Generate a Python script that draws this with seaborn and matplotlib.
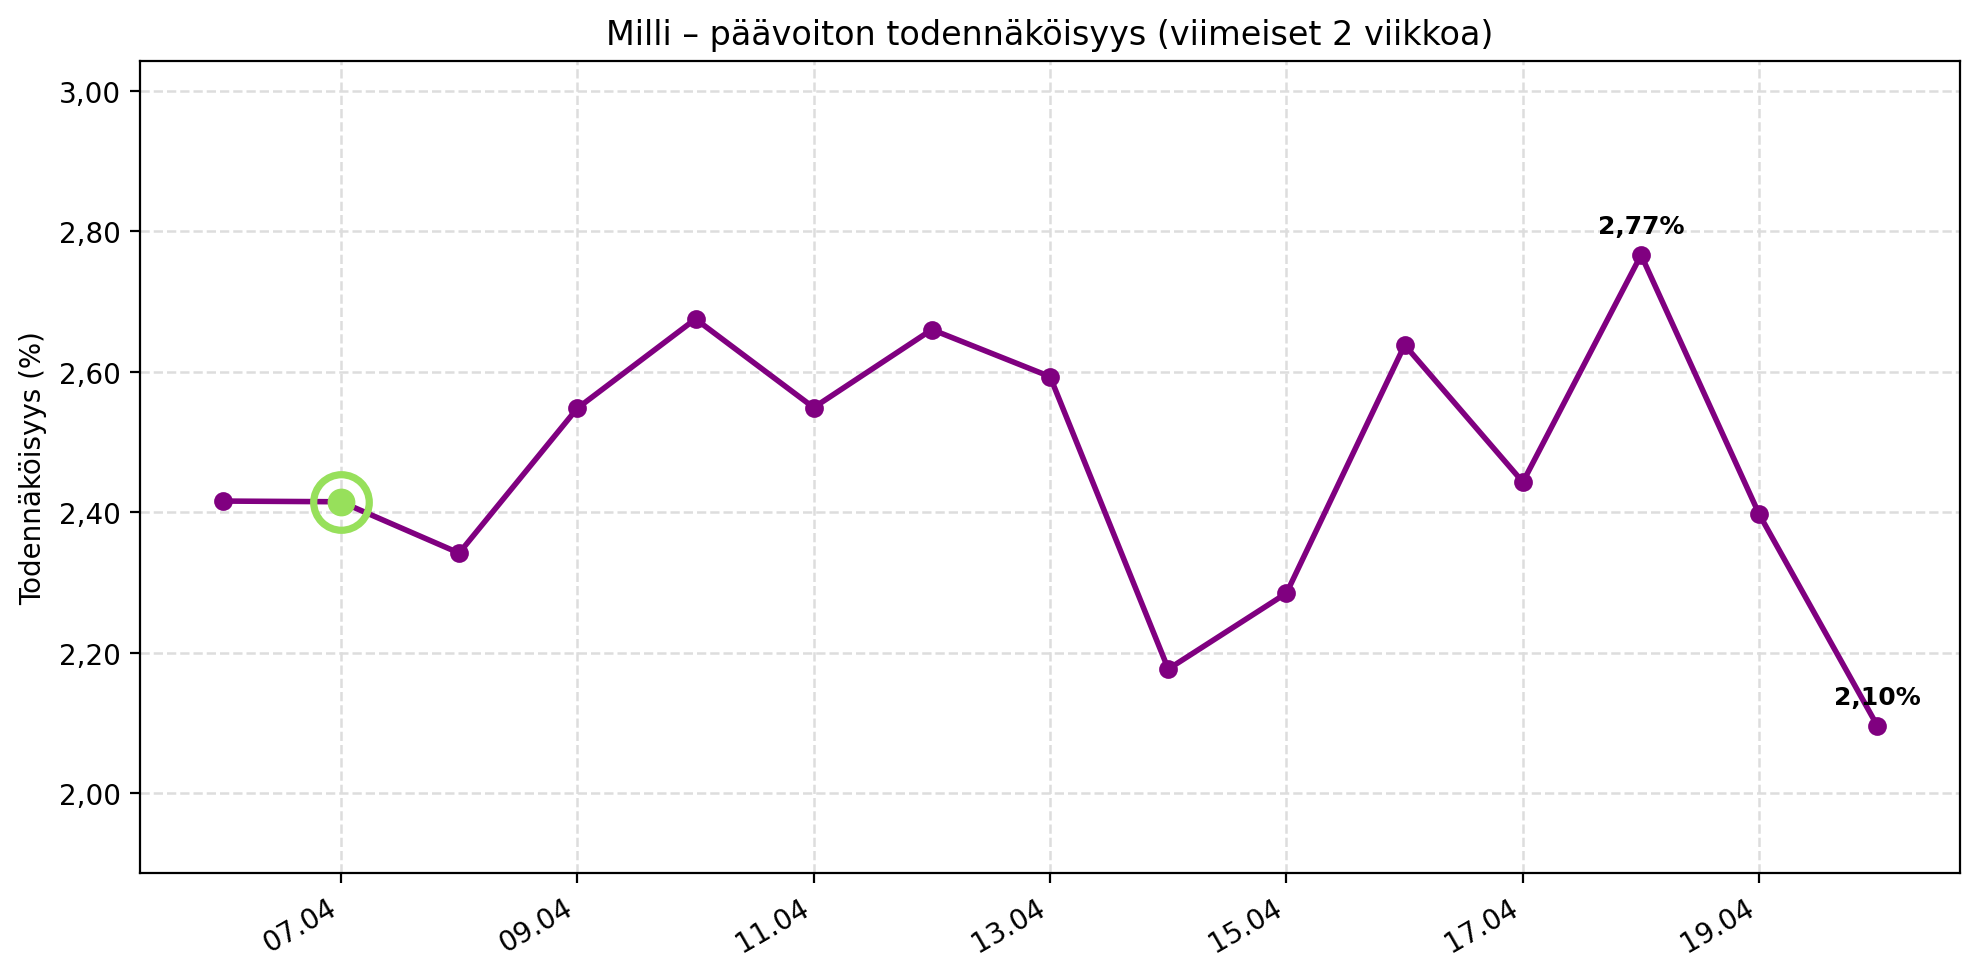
import matplotlib
matplotlib.use("Agg")
import matplotlib.pyplot as plt
import matplotlib.dates as mdates
import matplotlib.ticker as mticker
import pandas as pd
import seaborn as sns

# data
dates = ["2025-04-06", "2025-04-07", "2025-04-08", "2025-04-09", "2025-04-10",
         "2025-04-11", "2025-04-12", "2025-04-13", "2025-04-14", "2025-04-15",
         "2025-04-16", "2025-04-17", "2025-04-18", "2025-04-19", "2025-04-20"]
probability = [2.416, 2.415, 2.342, 2.548, 2.675, 2.549, 2.660, 2.593,
               2.177, 2.285, 2.638, 2.443, 2.766, 2.397, 2.096]
highlight_date = "2025-04-07"

title = "Milli – päävoiton todennäköisyys (viimeiset 2 viikkoa)"
ylabel = "Todennäköisyys (%)"

df = pd.DataFrame({"date": pd.to_datetime(dates), "prob": probability})

fig, ax = plt.subplots(figsize=(9.9, 4.89), dpi=200)

sns.lineplot(data=df, x="date", y="prob", ax=ax, color="purple",
             marker="o", markersize=6, markeredgecolor="purple",
             linewidth=2, zorder=3)

# highlighted day
hl = df[df["date"] == pd.Timestamp(highlight_date)]
ax.plot(hl["date"], hl["prob"], "o", color="#97E05B", markersize=9, zorder=5)
ax.plot(hl["date"], hl["prob"], "o", markerfacecolor="none",
        markeredgecolor="#97E05B", markersize=20, markeredgewidth=2.6, zorder=5)

# labels on max and latest
imax = df["prob"].idxmax()
for i in [imax, len(df) - 1]:
    val = df.loc[i, "prob"]
    ax.annotate(f"{val:.2f}%".replace(".", ","), (df.loc[i, "date"], val),
                xytext=(0, 6), textcoords="offset points", ha="center",
                va="bottom", fontsize=9, fontweight="bold")

ax.set_ylim(df["prob"].min() * 0.9, df["prob"].max() * 1.1)
ax.yaxis.set_major_locator(mticker.MultipleLocator(0.2))
ax.yaxis.set_major_formatter(
    mticker.FuncFormatter(lambda v, p: f"{v:.2f}".replace(".", ",")))
ax.xaxis.set_major_locator(mdates.DayLocator(interval=2))
ax.xaxis.set_major_formatter(mdates.DateFormatter("%d.%m"))

ax.grid(True, linestyle="--", color="#dddddd", linewidth=0.9)
ax.set_axisbelow(True)
ax.set_title(title, fontsize=12)
ax.set_ylabel(ylabel)
ax.set_xlabel("")
fig.autofmt_xdate()

fig.subplots_adjust(left=0.0707, right=0.990, top=0.937, bottom=0.106)
plt.savefig("out.png", dpi=200)
